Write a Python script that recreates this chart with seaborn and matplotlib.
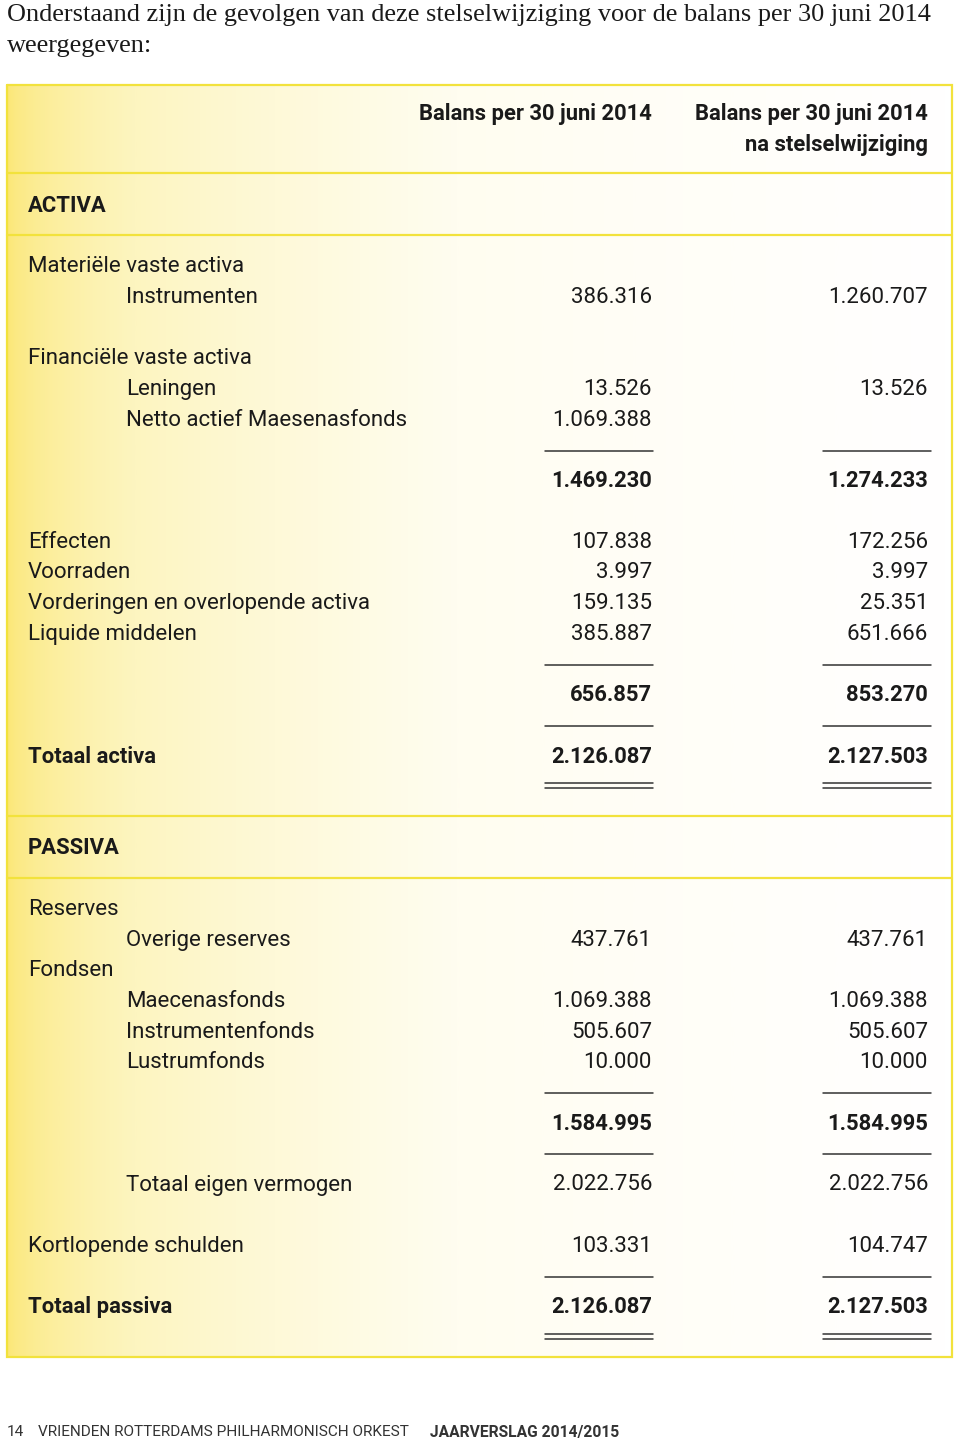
import matplotlib
matplotlib.use("Agg")
import matplotlib.pyplot as plt
import seaborn as sns
import numpy as np
from matplotlib.colors import LinearSegmentedColormap
from matplotlib import font_manager as fm
from matplotlib.font_manager import FontProperties

# ---------------- data ----------------
title_lines = ["Onderstaand zijn de gevolgen van deze stelselwijziging voor de balans per 30 juni 2014",
               "weergegeven:"]
header_before = ["Balans per 30 juni 2014"]
header_after = ["Balans per 30 juni 2014", "na stelselwijziging"]
sections = ["ACTIVA", "PASSIVA"]

activa_labels = ["Materiële vaste activa", "Instrumenten", "", "Financiële vaste activa", "Leningen",
                 "Netto actief Maesenasfonds", "", "", "", "Effecten", "Voorraden",
                 "Vorderingen en overlopende activa", "Liquide middelen", "", "", "", "Totaal activa"]
activa_indent = [0, 1, 0, 0, 1, 1, 0, 0, 0, 0, 0, 0, 0, 0, 0, 0, 0]
activa_before = ["", "386.316", "", "", "13.526", "1.069.388", "", "1.469.230", "", "107.838", "3.997",
                 "159.135", "385.887", "", "656.857", "", "2.126.087"]
activa_after = ["", "1.260.707", "", "", "13.526", "", "", "1.274.233", "", "172.256", "3.997",
                "25.351", "651.666", "", "853.270", "", "2.127.503"]
activa_kind = ["n", "n", "n", "n", "n", "n", "rule", "bold", "n", "n", "n", "n", "n", "rule", "bold",
               "rule", "total"]

passiva_labels = ["Reserves", "Overige reserves", "Fondsen", "Maecenasfonds", "Instrumentenfonds",
                  "Lustrumfonds", "", "", "", "Totaal eigen vermogen", "", "Kortlopende schulden", "",
                  "Totaal passiva"]
passiva_indent = [0, 1, 0, 1, 1, 1, 0, 0, 0, 1, 0, 0, 0, 0]
passiva_before = ["", "437.761", "", "1.069.388", "505.607", "10.000", "", "1.584.995", "",
                  "2.022.756", "", "103.331", "", "2.126.087"]
passiva_after = ["", "437.761", "", "1.069.388", "505.607", "10.000", "", "1.584.995", "",
                 "2.022.756", "", "104.747", "", "2.127.503"]
passiva_kind = ["n", "n", "n", "n", "n", "n", "rule", "bold", "rule", "n", "n", "n", "rule", "total"]

footer_parts = ["14", "VRIENDEN ROTTERDAMS PHILHARMONISCH ORKEST", "JAARVERSLAG 2014/2015"]

# ---------------- style ----------------
sns.set_theme(style="white")
plt.rcParams["font.family"] = ["DejaVu Sans"]


def pick_font(bold, prefs):
    want = 700 if bold else 400
    for name, st in prefs:
        c = [f for f in fm.fontManager.ttflist
             if f.name == name and f.style == "normal" and (st is None or f.stretch == st)]
        if not c:
            continue
        def wv(f):
            try:
                return int(f.weight)
            except Exception:
                return 700 if "bold" in str(f.weight) else 400
        c.sort(key=lambda f: abs(wv(f) - want))
        if abs(wv(c[0]) - want) > 150:
            continue
        return c[0].fname
    return None


def fp(path, fallback_weight):
    if path:
        return FontProperties(fname=path)
    return FontProperties(family="DejaVu Sans", weight=fallback_weight)


SANS_PREFS = [("Roboto", None), ("DejaVu Sans", "condensed"), ("Liberation Sans Narrow", None),
              ("Roboto Condensed", None), ("DejaVu Sans", None)]
REG = fp(pick_font(False, SANS_PREFS), "normal")
BLD = fp(pick_font(True, SANS_PREFS), "bold")
SERIF_R = FontProperties(family=["Liberation Serif", "DejaVu Serif"])

W, H = 960, 1443
fig = plt.figure(figsize=(W / 100, H / 100), dpi=100)
ax = fig.add_axes([0, 0, 1, 1])
ax.set_xlim(0, W)
ax.set_ylim(H, 0)
ax.axis("off")
renderer = fig.canvas.get_renderer()


def fit_size(text, prop, target_px, base=16.0):
    p = prop.copy()
    p.set_size(base)
    t = ax.text(0, 0, text, fontproperties=p)
    w = t.get_window_extent(renderer).width
    t.remove()
    return base * target_px / w


FS_R = fit_size("Vorderingen en overlopende activa", REG, 342)
FS_B = fit_size("Balans per 30 juni 2014", BLD, 233)
FS_T = fit_size(title_lines[0], SERIF_R, 921)
FS_F = fit_size(footer_parts[1], REG, 373)
FS_FB = fit_size(footer_parts[2], BLD, 190)


def P(prop, size):
    p = prop.copy()
    p.set_size(size)
    return p


PR, PB, PT = P(REG, FS_R), P(BLD, FS_B), P(SERIF_R, FS_T)
PF, PFB = P(REG, FS_F), P(BLD, FS_FB)

TXT = "#1a1a1a"
BORDER = "#f2e23c"

# layout grid
y0, dy = 267.0, 30.6
def rowy(k):
    return y0 + k * dy

box_l, box_r, box_t, box_b = 7, 952, 85, 1357
x_lab, x_ind = 28, 126
x_c1, x_c2 = 652, 928
rule1 = (545, 653)
rule2 = (823, 931)

# background gradient
grad = np.linspace(0, 1, 600) ** 0.55
cmap = LinearSegmentedColormap.from_list("y", ["#fbe672", "#fdf5c0", "#fffdf0", "#ffffff"], N=256)
ax.imshow(grad[None, :], extent=[box_l, box_r, box_b, box_t], cmap=cmap, aspect="auto",
          interpolation="bilinear", zorder=0)
ax.plot([box_l, box_r, box_r, box_l, box_l], [box_t, box_t, box_b, box_b, box_t], color=BORDER,
        lw=1.6, zorder=2, solid_joinstyle="miter")
for ysep in [173, 235, 816, 878]:
    ax.plot([box_l, box_r], [ysep, ysep], color=BORDER, lw=1.6, zorder=2)

# title
ax.text(7, 15, title_lines[0], fontproperties=PT, color=TXT, va="center", ha="left")
ax.text(7, 46, title_lines[1], fontproperties=PT, color=TXT, va="center", ha="left")

# headers
for i, t in enumerate(header_before):
    ax.text(x_c1, rowy(-5 + i), t, fontproperties=PB, ha="right", va="center", color=TXT)
for i, t in enumerate(header_after):
    ax.text(x_c2, rowy(-5 + i), t, fontproperties=PB, ha="right", va="center", color=TXT)

ax.text(x_lab, rowy(-2), sections[0], fontproperties=PB, ha="left", va="center", color=TXT)
ax.text(x_lab, rowy(19), sections[1], fontproperties=PB, ha="left", va="center", color=TXT)


def draw_block(k0, labels, indent, before, after, kind):
    for i, (lab, ind, b, a, kd) in enumerate(zip(labels, indent, before, after, kind)):
        y = rowy(k0 + i)
        bold = kd in ("bold", "total")
        if kd == "rule":
            for (xa, xb) in (rule1, rule2):
                ax.plot([xa, xb], [y, y], color="#333333", lw=1.1)
            continue
        if lab:
            ax.text(x_ind if ind else x_lab, y, lab, fontproperties=PB if kd == "total" else PR,
                    ha="left", va="center", color=TXT)
        if b:
            ax.text(x_c1, y, b, fontproperties=PB if bold else PR, ha="right", va="center", color=TXT)
        if a:
            ax.text(x_c2, y, a, fontproperties=PB if bold else PR, ha="right", va="center", color=TXT)
        if kd == "total":
            for off in (26.5, 31.5):
                for (xa, xb) in (rule1, rule2):
                    ax.plot([xa, xb], [y + off, y + off], color="#333333", lw=1.1)


draw_block(0, activa_labels, activa_indent, activa_before, activa_after, activa_kind)
draw_block(21, passiva_labels, passiva_indent, passiva_before, passiva_after, passiva_kind)

# footer
ax.text(7, 1432, footer_parts[0], fontproperties=PF, color="#333333", va="center", ha="left")
ax.text(38, 1432, footer_parts[1], fontproperties=PF, color="#333333", va="center", ha="left")
ax.text(430, 1432, footer_parts[2], fontproperties=PFB, color="#333333", va="center", ha="left")

fig.savefig("out.png", dpi=100)
